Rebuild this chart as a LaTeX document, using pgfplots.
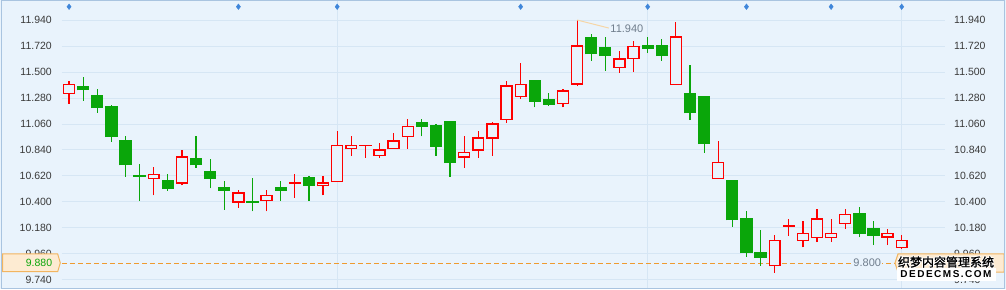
\documentclass[border=0pt]{standalone}
\usepackage{pgfplots}
\pgfplotsset{compat=1.18}
\usepackage{pgfplotstable}
\usepackage{fontspec}
\setmainfont{Liberation Sans}
\newfontfamily\cjk[FakeBold=1.5]{Noto Sans CJK SC}
\newfontfamily\wmfont[LetterSpace=15]{Liberation Sans}
\definecolor{bg}{HTML}{E9F3FC}
\definecolor{gridc}{HTML}{D6E6F4}
\definecolor{framec}{HTML}{A9C4E0}
\definecolor{upc}{HTML}{FF0000}
\definecolor{dnc}{HTML}{0AA60A}
\definecolor{tickc}{HTML}{3A3A3A}
\definecolor{lblc}{HTML}{6F7D8C}
\definecolor{dashc}{HTML}{EE9B30}
\definecolor{boxfill}{HTML}{FDEBD2}
\definecolor{boxdraw}{HTML}{F2B560}
\definecolor{evt}{HTML}{3F86DA}
\definecolor{leader}{HTML}{F6D6A6}

\pgfplotstableread{
x o h l c
0 11.32 11.425 11.23 11.395
6 10.60 10.695 10.455 10.635
8 10.56 10.84 10.54 10.78
12 10.40 10.50 10.35 10.475
14 10.415 10.50 10.32 10.455
16 10.56 10.64 10.435 10.56
18 10.54 10.62 10.455 10.56
19 10.575 11.00 10.575 10.88
20 10.855 10.96 10.79 10.88
21 10.88 10.88 10.775 10.88
22 10.795 10.90 10.775 10.84
23 10.855 10.985 10.855 10.915
24 10.955 11.10 10.85 11.04
28 10.78 10.96 10.69 10.82
29 10.84 11.00 10.775 10.94
30 10.94 11.08 10.79 11.06
31 11.10 11.425 11.07 11.38
32 11.295 11.58 11.275 11.395
35 11.235 11.355 11.20 11.34
36 11.40 11.94 11.38 11.72
39 11.54 11.68 11.495 11.61
40 11.615 11.76 11.50 11.715
43 11.395 11.925 11.395 11.795
46 10.60 10.915 10.60 10.735
50 9.86 10.12 9.80 10.075
51 10.195 10.255 10.115 10.195
52 10.075 10.24 10.015 10.135
53 10.10 10.34 10.06 10.255
54 10.10 10.255 10.06 10.135
55 10.22 10.34 10.175 10.295
58 10.105 10.17 10.035 10.135
59 10.015 10.12 10.00 10.075
}\redtab

\pgfplotstableread{
x o h l c
1 11.38 11.46 11.255 11.35
2 11.30 11.355 11.155 11.20
3 11.205 11.22 10.91 10.955
4 10.915 10.96 10.615 10.715
5 10.62 10.72 10.41 10.62
7 10.58 10.635 10.495 10.515
9 10.765 10.96 10.69 10.715
10 10.66 10.765 10.515 10.60
11 10.52 10.58 10.335 10.50
13 10.40 10.605 10.32 10.40
15 10.52 10.58 10.41 10.50
17 10.605 10.62 10.41 10.54
25 11.075 11.10 10.955 11.04
26 11.045 11.06 10.79 10.875
27 11.08 11.08 10.615 10.735
33 11.425 11.425 11.20 11.255
34 11.265 11.32 11.215 11.23
37 11.795 11.82 11.595 11.655
38 11.705 11.795 11.51 11.64
41 11.72 11.795 11.66 11.70
42 11.72 11.78 11.595 11.64
44 11.32 11.56 11.095 11.155
45 11.295 11.30 10.815 10.895
47 10.58 10.58 10.19 10.25
48 10.255 10.325 9.935 9.97
49 9.975 10.165 9.86 9.935
56 10.30 10.36 10.10 10.135
57 10.175 10.235 10.035 10.12
}\greentab

\pgfplotsset{
  base/.style={
    scale only axis, width=883pt, height=287pt,
    xmin=-0.5, xmax=62.07, ymin=9.672, ymax=12.101,
    axis line style={draw=none},
    major tick length=0pt, tick style={draw=none},
    ytick={9.74,9.96,10.18,10.40,10.62,10.84,11.06,11.28,11.50,11.72,11.94},
    xtick={19,41,59}, xticklabels={},
    scaled y ticks=false,
    yticklabel style={/pgf/number format/fixed, /pgf/number format/fixed zerofill, /pgf/number format/precision=3, /pgf/number format/assume math mode=true},
    tick label style={font=\fontsize{10.5}{12}\selectfont, text=tickc, inner sep=0pt},
  }
}

\newcommand\halo[3]{%
  \foreach \dx/\dy in {-0.7/-0.7,0.7/0.7,-0.7/0.7,0.7/-0.7}{%
    \node[white,font=#2,inner sep=0pt] at ([shift={(\dx pt,\dy pt)}]#1) {#3};}%
  \node[black,font=#2,inner sep=0pt] at (#1) {#3};}

\begin{document}
\begin{tikzpicture}
\useasboundingbox (-62pt,-1pt) rectangle (944pt,288pt);
\fill[bg] (-62pt,-1pt) rectangle (944pt,288pt);

\begin{axis}[base,
  xmajorgrids, ymajorgrids,
  grid style={gridc, line width=1pt},
  yticklabel style={anchor=east, xshift=-10pt},
]
% dashed reference line
\addplot[dashc, line width=1.2pt, dash pattern=on 5pt off 3pt] coordinates {(-0.5,9.88) (62.07,9.88)};
% wicks
\addplot[upc, line width=1.2pt, quiver={u=0, v=\thisrow{h}-\thisrow{l}}] table[x=x, y=l]{\redtab};
\addplot[dnc, line width=1.2pt, quiver={u=0, v=\thisrow{h}-\thisrow{l}}] table[x=x, y=l]{\greentab};
% bodies
\addplot[upc, line width=12.3pt, quiver={u=0, v=\thisrow{c}-\thisrow{o}+0.012}] table[x=x, y expr=\thisrow{o}-0.006]{\redtab};
\addplot[bg, line width=9.5pt, quiver={u=0, v={max(\thisrow{c}-\thisrow{o}-0.012,0)}}] table[x=x, y expr=\thisrow{o}+0.006]{\redtab};
\addplot[dnc, line width=12.3pt, quiver={u=0, v=\thisrow{o}-\thisrow{c}+0.011}] table[x=x, y expr=\thisrow{c}-0.0055]{\greentab};
% event markers
\addplot[only marks, mark=diamond*, mark size=2.8pt, evt] coordinates {
 (0,12.0525) (12,12.0525) (19,12.0525) (32,12.0525) (41,12.0525) (48,12.0525) (54,12.0525) (59,12.0525)};
% annotations
\draw[leader, line width=1pt] (axis cs:36,11.94) -- (axis cs:38.25,11.872);
\node[text=lblc, font=\fontsize{11}{12}\selectfont, anchor=west, inner sep=0pt] at (axis cs:38.35,11.866) {11.940};
\node[text=lblc, font=\fontsize{11}{12}\selectfont, anchor=west, fill=bg, inner sep=1pt] at (axis cs:55.5,9.888) {9.800};
\end{axis}

\begin{axis}[base, yticklabel pos=right,
  yticklabel style={anchor=west, xshift=9pt}]
\end{axis}

% left price box
\draw[boxdraw, fill=boxfill, line width=1pt] (-59.3pt,16.3pt) -- (-4.3pt,16.3pt) -- (-1.7pt,25.15pt) -- (-4.3pt,34pt) -- (-59.3pt,34pt) -- cycle;
\node[anchor=east, text=dnc, font=\fontsize{10.5}{12}\selectfont, inner sep=0pt] at (-9.7pt,25.15pt) {9.880};
% right price box
\draw[boxdraw, fill=boxfill, line width=1pt] (836pt,16pt) -- (942pt,16pt) -- (942pt,34pt) -- (836pt,34pt) -- (833pt,25pt) -- cycle;
% watermark
\fill[white] (835pt,7pt) rectangle (934pt,20pt);
\halo{884pt,26pt}{\cjk\fontsize{12}{12}\selectfont}{织梦内容管理系统}
\node[black, font=\wmfont\bfseries\fontsize{10}{10}\selectfont, inner sep=0pt] at (884pt,14pt) {DEDECMS.COM};

% frame
\draw[framec, line width=1.2pt] (-60.5pt,-0.5pt) rectangle (942.5pt,287.5pt);
\end{tikzpicture}
\end{document}
